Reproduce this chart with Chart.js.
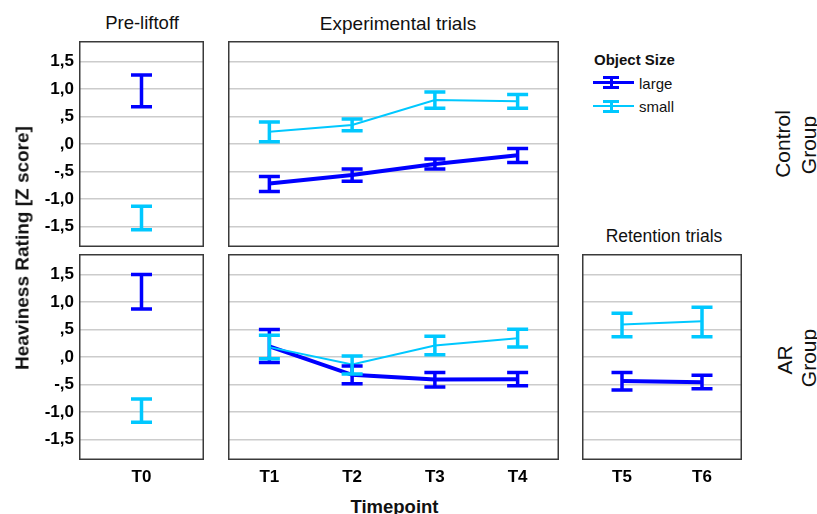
<!DOCTYPE html>
<html>
<head>
<meta charset="utf-8">
<script src="https://cdn.jsdelivr.net/npm/chart.js@4.4.0/dist/chart.umd.min.js"></script>
<style>
body{margin:0;background:#fff;}
#fig{position:relative;width:817px;height:514px;overflow:hidden;font-family:"Liberation Sans",Arial,sans-serif;color:#111;}
#fig canvas{position:absolute;}
.txt{position:absolute;white-space:nowrap;}
.bar{position:absolute;}
</style>
</head>
<body>
<div id="fig">
  <canvas id="preTop" width="204" height="206" style="left:0;top:41px"></canvas>
  <canvas id="expTop" width="331" height="206" style="left:228px;top:41px"></canvas>
  <canvas id="preBot" width="204" height="236" style="left:0;top:254px"></canvas>
  <canvas id="expBot" width="331" height="236" style="left:228px;top:254px"></canvas>
  <canvas id="retBot" width="160" height="236" style="left:582px;top:254px"></canvas>
</div>
<script>
// timepoints
const preLabels = ['T0'];
const expLabels = ['T1', 'T2', 'T3', 'T4'];
const retLabels = ['T5', 'T6'];

// control group
const ctrlPreLarge = [0.965], ctrlPreLargeLo = [0.68], ctrlPreLargeHi = [1.255];
const ctrlPreSmall = [-1.35], ctrlPreSmallLo = [-1.56], ctrlPreSmallHi = [-1.135];
const ctrlExpLarge = [-0.72, -0.565, -0.365, -0.205];
const ctrlExpLargeLo = [-0.865, -0.68, -0.455, -0.335];
const ctrlExpLargeHi = [-0.59, -0.455, -0.275, -0.08];
const ctrlExpSmall = [0.225, 0.345, 0.80, 0.78];
const ctrlExpSmallLo = [0.04, 0.24, 0.65, 0.65];
const ctrlExpSmallHi = [0.40, 0.455, 0.945, 0.90];

// AR group
const arPreLarge = [1.185], arPreLargeLo = [0.875], arPreLargeHi = [1.50];
const arPreSmall = [-0.98], arPreSmallLo = [-1.19], arPreSmallHi = [-0.765];
const arExpLarge = [0.195, -0.325, -0.41, -0.405];
const arExpLargeLo = [-0.10, -0.485, -0.545, -0.525];
const arExpLargeHi = [0.50, -0.165, -0.28, -0.28];
const arExpSmall = [0.18, -0.135, 0.21, 0.34];
const arExpSmallLo = [-0.03, -0.31, 0.04, 0.18];
const arExpSmallHi = [0.395, 0.02, 0.38, 0.505];
const arRetLarge = [-0.435, -0.46];
const arRetLargeLo = [-0.60, -0.58];
const arRetLargeHi = [-0.28, -0.33];
const arRetSmall = [0.59, 0.65];
const arRetSmallLo = [0.37, 0.37];
const arRetSmallHi = [0.795, 0.905];

const yTicks = [-1.5, -1.0, -0.5, 0, 0.5, 1.0, 1.5];

const LARGE = '#0000ff';
const SMALL = '#00c8ff';
const FONT = '"Liberation Sans", Arial, sans-serif';

function fmtTick(v) {
  let s = Math.abs(v).toFixed(1).replace('.', ',');
  if (s.startsWith('0')) s = s.slice(1);
  return (v < 0 ? '-' : '') + s;
}

// error bars + panel frame
const errorBars = {
  id: 'errorBars',
  afterDatasetsDraw(chart) {
    const ctx = chart.ctx, ys = chart.scales.y;
    const metas = chart.getSortedVisibleDatasetMetas().slice().reverse();
    ctx.save();
    metas.forEach(meta => {
      const ds = chart.data.datasets[meta.index];
      ctx.strokeStyle = ds.borderColor;
      ctx.lineWidth = 3.5;
      meta.data.forEach((pt, i) => {
        const x = pt.x;
        const y1 = ys.getPixelForValue(ds.errLow[i]);
        const y2 = ys.getPixelForValue(ds.errHigh[i]);
        ctx.beginPath();
        ctx.moveTo(x, y1); ctx.lineTo(x, y2);
        ctx.moveTo(x - 10.5, y1); ctx.lineTo(x + 10.5, y1);
        ctx.moveTo(x - 10.5, y2); ctx.lineTo(x + 10.5, y2);
        ctx.stroke();
      });
    });
    const a = chart.chartArea;
    ctx.strokeStyle = '#3a3a3a';
    ctx.lineWidth = 1.5;
    ctx.strokeRect(a.left + 0.75, a.top + 0.75, a.right - a.left - 1.5, a.bottom - a.top - 1.5);
    ctx.restore();
  }
};

function makePanel(id, labels, large, largeLo, largeHi, small, smallLo, smallHi, leftWidth, showX) {
  new Chart(document.getElementById(id), {
    type: 'line',
    data: {
      labels: labels,
      datasets: [
        {label: 'small', data: small, errLow: smallLo, errHigh: smallHi,
         borderColor: SMALL, borderWidth: 2, pointRadius: 0, fill: false, tension: 0},
        {label: 'large', data: large, errLow: largeLo, errHigh: largeHi,
         borderColor: LARGE, borderWidth: 4, pointRadius: 0, fill: false, tension: 0}
      ]
    },
    options: {
      responsive: false,
      devicePixelRatio: 1,
      animation: false,
      events: [],
      plugins: {legend: {display: false}, tooltip: {enabled: false}},
      layout: {padding: 0},
      scales: {
        x: {
          display: showX,
          offset: true,
          grid: {display: false, drawTicks: false},
          border: {display: false},
          ticks: {color: '#000', padding: 7, font: {family: FONT, size: 17, weight: 'bold'}},
          afterFit: s => {
            s.height = showX ? 30 : 0;
            s.paddingLeft = s.paddingRight = 0;
          }
        },
        y: {
          min: -1.875, max: 1.875,
          grid: {color: '#cccccc', lineWidth: 1.5, drawTicks: false},
          border: {display: false},
          afterBuildTicks: s => { s.ticks = yTicks.map(v => ({value: v})); },
          ticks: {
            display: leftWidth > 0,
            color: '#000', padding: 5,
            font: {family: FONT, size: 17, weight: 'bold'},
            callback: v => fmtTick(v)
          },
          afterFit: s => {
            s.width = leftWidth;
            s.paddingTop = s.paddingBottom = 0;
          }
        }
      }
    },
    plugins: [errorBars]
  });
}

makePanel('preTop', preLabels, ctrlPreLarge, ctrlPreLargeLo, ctrlPreLargeHi, ctrlPreSmall, ctrlPreSmallLo, ctrlPreSmallHi, 79, false);
makePanel('expTop', expLabels, ctrlExpLarge, ctrlExpLargeLo, ctrlExpLargeHi, ctrlExpSmall, ctrlExpSmallLo, ctrlExpSmallHi, 0, false);
makePanel('preBot', preLabels, arPreLarge, arPreLargeLo, arPreLargeHi, arPreSmall, arPreSmallLo, arPreSmallHi, 79, true);
makePanel('expBot', expLabels, arExpLarge, arExpLargeLo, arExpLargeHi, arExpSmall, arExpSmallLo, arExpSmallHi, 0, true);
makePanel('retBot', retLabels, arRetLarge, arRetLargeLo, arRetLargeHi, arRetSmall, arRetSmallLo, arRetSmallHi, 0, true);

// texts around the panels
const fig = document.getElementById('fig');
function addText(str, x, baseline, size, weight, align) {
  const d = document.createElement('div');
  d.className = 'txt';
  d.textContent = str;
  d.style.fontSize = size + 'px';
  d.style.lineHeight = size + 'px';
  d.style.fontWeight = weight;
  d.style.top = (baseline - 0.8465 * size) + 'px';
  d.style.left = x + 'px';
  if (align === 'center') d.style.transform = 'translateX(-50%)';
  fig.appendChild(d);
}
function addVText(str, cx, cy, size, weight) {
  const d = document.createElement('div');
  d.className = 'txt';
  d.textContent = str;
  d.style.fontSize = size + 'px';
  d.style.lineHeight = size + 'px';
  d.style.fontWeight = weight;
  d.style.left = cx + 'px';
  d.style.top = cy + 'px';
  d.style.transform = 'translate(-50%,-50%) rotate(-90deg)';
  fig.appendChild(d);
}
function addBar(l, t, w, h, c) {
  const d = document.createElement('div');
  d.className = 'bar';
  d.style.cssText = `left:${l}px;top:${t}px;width:${w}px;height:${h}px;background:${c}`;
  fig.appendChild(d);
}

addText('Pre-liftoff', 142, 29.5, 18.5, 'normal', 'center');
addText('Experimental trials', 398, 30.5, 19, 'normal', 'center');
addText('Retention trials', 664, 243, 17.5, 'normal', 'center');
addText('Timepoint', 394.5, 514, 18.5, 'bold', 'center');
addVText('Heaviness Rating [Z score]', 21.5, 247.5, 19, 'bold');
addVText('Control', 782, 144, 21, 'normal');
addVText('Group', 808, 144.5, 21, 'normal');
addVText('AR', 783.5, 359.5, 21, 'normal');
addVText('Group', 808, 358, 21, 'normal');

// legend
addText('Object Size', 594, 64.3, 15, 'bold', 'left');
addText('large', 639, 88.5, 15, 'normal', 'left');
addText('small', 639, 111.7, 15, 'normal', 'left');
[[LARGE, 82.7, 3], [SMALL, 106, 2]].forEach(([c, cy, lw]) => {
  addBar(593, cy - lw / 2, 41, lw, c);
  addBar(603, cy - 6.5, 16, 3, c);
  addBar(603, cy + 3.5, 16, 3, c);
  addBar(609.5, cy - 6, 3, 12, c);
});
</script>
</body>
</html>
